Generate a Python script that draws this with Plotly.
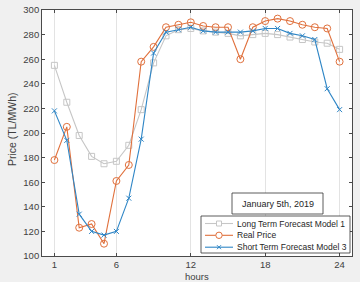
import plotly.graph_objects as go

hours = list(range(1, 25))
long_term = [255, 225, 198, 181, 175, 177, 190, 219, 257, 279, 284, 285,
             283, 282, 281, 279, 280, 281, 280, 278, 276, 274, 273, 268]
real_price = [178, 205, 123, 126, 110, 161, 174, 258, 270, 286, 288, 290,
              287, 286, 286, 260, 286, 291, 293, 291, 288, 286, 285, 258]
short_term = [218, 194, 134, 120, 117, 120, 147, 195, 265, 282, 284, 286,
              283, 282, 282, 282, 283, 285, 285, 281, 279, 276, 236, 219]
x_ticks = [1, 6, 12, 18, 24]
y_ticks = list(range(100, 301, 20))
names = ["Long Term Forecast Model 1", "Real Price", "Short Term Forecast Model 3"]
annot_text = "January 5th, 2019"
x_title = "hours"
y_title = "Price (TL/MWh)"

C_GRAY = "#c6c6c6"
C_ORANGE = "#e0703c"
C_BLUE = "#2f86c6"
FONT = "Liberation Sans, Arial, sans-serif"

W, H = 360, 282
ML, MR, MT, MB = 42, 8, 10, 26
PW, PH = W - ML - MR, H - MT - MB


def px(x):
    return (x - ML) / PW


def py(y):
    return (H - MB - y) / PH


fig = go.Figure()
fig.add_trace(go.Scatter(x=hours, y=long_term, mode="lines+markers", name=names[0],
                         line=dict(color=C_GRAY, width=1.1),
                         marker=dict(symbol="square-open", size=6, color=C_GRAY, line=dict(width=1))))
fig.add_trace(go.Scatter(x=hours, y=real_price, mode="lines+markers", name=names[1],
                         line=dict(color=C_ORANGE, width=1.1),
                         marker=dict(symbol="circle-open", size=7, color=C_ORANGE, line=dict(width=1))))
fig.add_trace(go.Scatter(x=hours, y=short_term, mode="lines+markers", name=names[2],
                         line=dict(color=C_BLUE, width=1.1),
                         marker=dict(symbol="x-thin-open", size=5, color=C_BLUE, line=dict(width=1, color=C_BLUE))))

shapes = []
annotations = []
# axis titles
annotations.append(dict(xref="paper", yref="paper", x=px(197), y=py(282.5), text=x_title, showarrow=False,
                        font=dict(family=FONT, size=9.5, color="#404040"), xanchor="center", yanchor="bottom",
                        borderpad=0))
annotations.append(dict(xref="paper", yref="paper", x=px(12), y=py(129), text=y_title, showarrow=False,
                        textangle=-90, font=dict(family=FONT, size=10.5, color="#404040"),
                        xanchor="center", yanchor="middle"))
# annotation box
shapes.append(dict(type="rect", xref="paper", yref="paper", x0=px(232), x1=px(323), y0=py(214), y1=py(193),
                   line=dict(color="#333333", width=0.8), fillcolor="white", layer="above"))
annotations.append(dict(xref="paper", yref="paper", x=px(277.5), y=py(203.5), text=annot_text, showarrow=False,
                        font=dict(family=FONT, size=9, color="#262626"), xanchor="center", yanchor="middle"))
# legend box
shapes.append(dict(type="rect", xref="paper", yref="paper", x0=px(201), x1=px(350), y0=py(253), y1=py(216),
                   line=dict(color="#333333", width=0.8), fillcolor="white", layer="above"))
rows = [223.5, 235.3, 247.2]
cols = [C_GRAY, C_ORANGE, C_BLUE]
for i, (ry, c) in enumerate(zip(rows, cols)):
    shapes.append(dict(type="line", xref="paper", yref="paper", x0=px(205), x1=px(233), y0=py(ry), y1=py(ry),
                       line=dict(color=c, width=1.1), layer="above"))
    mx = 219
    if i == 0:
        shapes.append(dict(type="rect", xref="paper", yref="paper", x0=px(mx - 2.5), x1=px(mx + 2.5),
                           y0=py(ry + 2.5), y1=py(ry - 2.5), line=dict(color=c, width=1), fillcolor="white",
                           layer="above"))
    elif i == 1:
        shapes.append(dict(type="circle", xref="paper", yref="paper", x0=px(mx - 3.2), x1=px(mx + 3.2),
                           y0=py(ry + 3.2), y1=py(ry - 3.2), line=dict(color=c, width=1), fillcolor="white",
                           layer="above"))
    else:
        for s in (1, -1):
            shapes.append(dict(type="line", xref="paper", yref="paper", x0=px(mx - 2), x1=px(mx + 2),
                               y0=py(ry + 2 * s), y1=py(ry - 2 * s), line=dict(color=c, width=1), layer="above"))
    annotations.append(dict(xref="paper", yref="paper", x=px(235), y=py(ry), text=names[i], showarrow=False,
                            font=dict(family=FONT, size=8.5, color="#262626"), xanchor="left", yanchor="middle"))

axis_common = dict(showline=True, linecolor="#4a4a4a", linewidth=0.8, mirror="ticks", ticks="inside",
                   ticklen=3, tickcolor="#4a4a4a", tickwidth=0.8, zeroline=False, automargin=False,
                   tickfont=dict(family=FONT, size=9.5, color="#404040"))

fig.update_layout(
    width=W, height=H,
    margin=dict(l=ML, r=MR, t=MT, b=MB),
    paper_bgcolor="#f0f0f0", plot_bgcolor="white",
    showlegend=False,
    shapes=shapes, annotations=annotations,
    xaxis=dict(range=[0, 25], tickvals=x_ticks, showgrid=True, gridcolor="#e3e3e3", gridwidth=0.8,
               ticklabelstandoff=0, **axis_common),
    yaxis=dict(range=[100, 300], tickvals=y_ticks, showgrid=False, **axis_common),
)

fig.write_html("out.html")
